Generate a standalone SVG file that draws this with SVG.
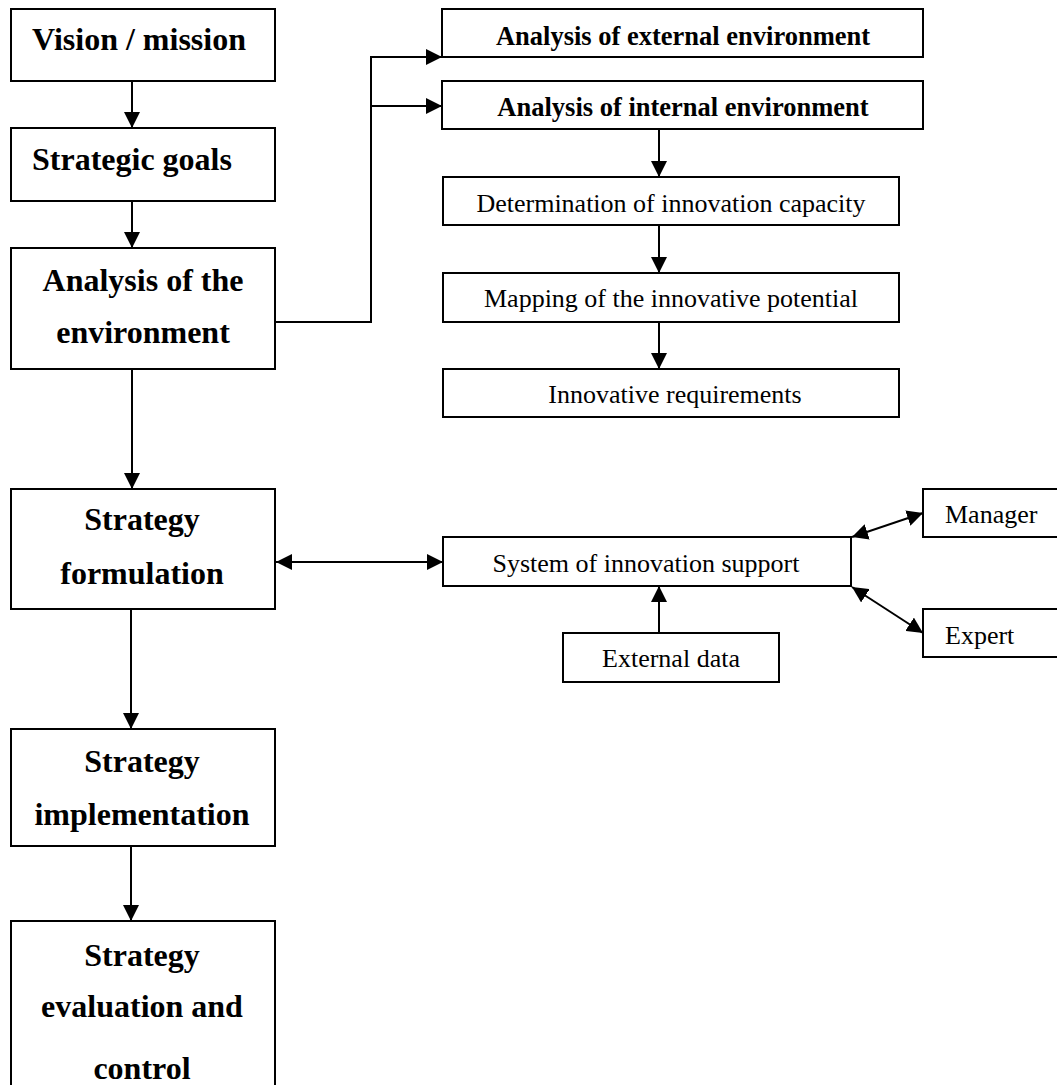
<svg xmlns="http://www.w3.org/2000/svg" width="1057" height="1085" viewBox="0 0 1057 1085">
<style>
.box{fill:#fff;stroke:#000;stroke-width:2}
.big{font-family:"Liberation Serif","Times New Roman",serif;font-weight:bold;font-size:32px;fill:#000}
.bs{font-family:"Liberation Serif","Times New Roman",serif;font-weight:bold;font-size:26.5px;fill:#000}
.rs{font-family:"Liberation Serif","Times New Roman",serif;font-size:26px;fill:#000}
.c{text-anchor:middle}
.con{fill:none;stroke:#000;stroke-width:2}
</style>
<defs>
<marker id="ah" markerUnits="userSpaceOnUse" markerWidth="16" markerHeight="16" refX="15" refY="7.5" orient="auto-start-reverse" viewBox="0 0 15 15">
<path d="M0,0 L15,7.5 L0,15 z" fill="#000"/>
</marker>
</defs>
<rect width="1057" height="1085" fill="#fff"/>
<g id="connectors">
<line class="con" x1="132" y1="81" x2="132" y2="128" marker-end="url(#ah)"/>
<line class="con" x1="132" y1="201" x2="132" y2="248" marker-end="url(#ah)"/>
<line class="con" x1="132" y1="369" x2="132" y2="489" marker-end="url(#ah)"/>
<line class="con" x1="131" y1="609" x2="131" y2="729" marker-end="url(#ah)"/>
<line class="con" x1="131" y1="846" x2="131" y2="921" marker-end="url(#ah)"/>
<polyline class="con" points="275,322 371,322 371,57 442,57" marker-end="url(#ah)"/>
<line class="con" x1="371" y1="106" x2="442" y2="106" marker-end="url(#ah)"/>
<line class="con" x1="659" y1="129" x2="659" y2="177" marker-end="url(#ah)"/>
<line class="con" x1="659" y1="225" x2="659" y2="273" marker-end="url(#ah)"/>
<line class="con" x1="659" y1="322" x2="659" y2="369" marker-end="url(#ah)"/>
<line class="con" x1="276" y1="562" x2="443" y2="562" marker-start="url(#ah)" marker-end="url(#ah)"/>
<line class="con" x1="659" y1="633" x2="659" y2="586" marker-end="url(#ah)"/>
<line class="con" x1="852" y1="537" x2="923" y2="513" marker-start="url(#ah)" marker-end="url(#ah)"/>
<line class="con" x1="852" y1="587" x2="923" y2="633" marker-start="url(#ah)" marker-end="url(#ah)"/>
</g>
<g id="vision"><rect class="box" x="11" y="9" width="264" height="72"/><text class="big" x="32" y="50">Vision / mission</text></g>
<g id="goals"><rect class="box" x="11" y="128" width="264" height="73"/><text class="big" x="32" y="170">Strategic goals</text></g>
<g id="analysis"><rect class="box" x="11" y="248" width="264" height="121"/><text class="big c" x="143" y="291">Analysis of the</text><text class="big c" x="143" y="343">environment</text></g>
<g id="formulation"><rect class="box" x="11" y="489" width="264" height="120"/><text class="big c" x="142" y="530">Strategy</text><text class="big c" x="142" y="584">formulation</text></g>
<g id="implementation"><rect class="box" x="11" y="729" width="264" height="117"/><text class="big c" x="142" y="772">Strategy</text><text class="big c" x="142" y="825">implementation</text></g>
<g id="evaluation"><rect class="box" x="11" y="921" width="264" height="175"/><text class="big c" x="142" y="966">Strategy</text><text class="big c" x="142" y="1017">evaluation and</text><text class="big c" x="142" y="1079">control</text></g>
<g id="external"><rect class="box" x="442" y="9" width="481" height="48"/><text class="bs c" x="683" y="45">Analysis of external environment</text></g>
<g id="internal"><rect class="box" x="442" y="81" width="481" height="48"/><text class="bs c" x="683" y="116">Analysis of internal environment</text></g>
<g id="determination"><rect class="box" x="443" y="177" width="456" height="48"/><text class="rs c" x="671" y="212">Determination of innovation capacity</text></g>
<g id="mapping"><rect class="box" x="443" y="273" width="456" height="49"/><text class="rs c" x="671" y="307">Mapping of the innovative potential</text></g>
<g id="requirements"><rect class="box" x="443" y="369" width="456" height="48"/><text class="rs c" x="675" y="403">Innovative requirements</text></g>
<g id="system"><rect class="box" x="443" y="537" width="408" height="49"/><text class="rs c" x="646" y="572">System of innovation support</text></g>
<g id="externaldata"><rect class="box" x="563" y="633" width="216" height="49"/><text class="rs c" x="671" y="667">External data</text></g>
<g id="manager"><rect class="box" x="923" y="489" width="140" height="48"/><text class="rs" x="945" y="523">Manager</text></g>
<g id="expert"><rect class="box" x="923" y="609" width="140" height="48"/><text class="rs" x="945" y="644">Expert</text></g>
</svg>
